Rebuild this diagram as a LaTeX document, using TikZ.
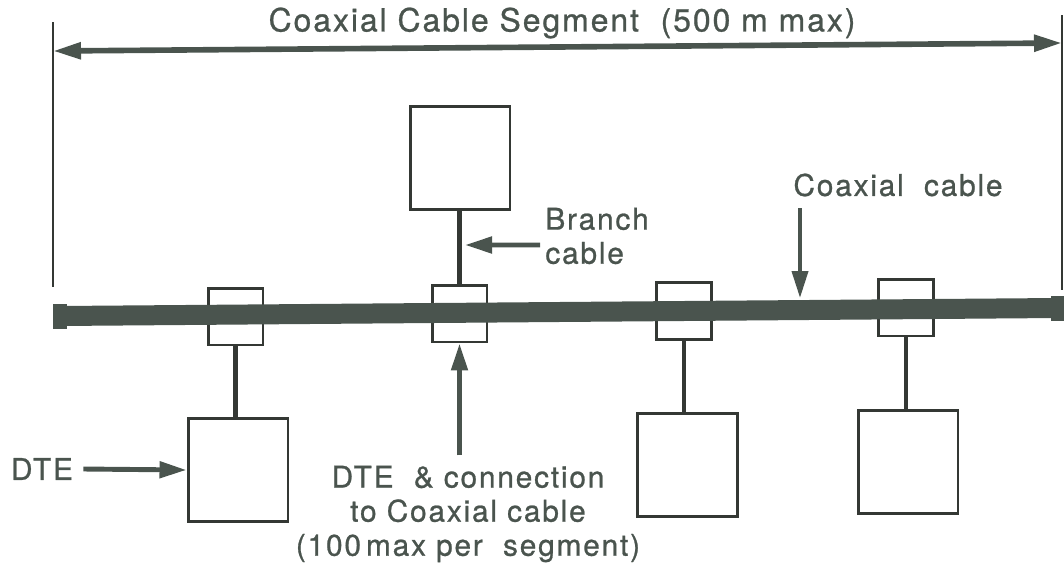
\documentclass[tikz,border=0pt]{standalone}
\usepackage{fontspec}
\setmainfont{TeX Gyre Heros}[LetterSpace=6, FakeBold=0.8]
\usepackage{xcolor}
\usepackage{tikz}
\usetikzlibrary{arrows.meta, positioning}
\definecolor{cableink}{RGB}{74,84,78}
\definecolor{lineink}{RGB}{52,56,52}
\tikzset{
    dte/.style={rectangle, draw=lineink, line width=1.7pt, fill=white, minimum width=2cm, minimum height=2.06cm},
    tap/.style={rectangle, draw=lineink, line width=1.7pt, minimum width=1.1cm, minimum height=1.14cm},
    endcap/.style={rectangle, fill=cableink, minimum width=0.28cm, minimum height=0.5cm, inner sep=0pt},
    txt/.style={text=cableink, font=\fontsize{17}{19.4}\selectfont, inner sep=0pt},
    branch/.style={draw=lineink, line width=2.3pt},
    tick/.style={draw=lineink, line width=1.3pt},
    cable/.style={draw=cableink, line width=0.4cm},
    pointer/.style={draw=cableink, line width=2.8pt, -{Triangle[length=0.54cm, width=0.32cm]}},
    span/.style={draw=cableink, line width=3.2pt, {Triangle[length=0.56cm, width=0.32cm]}-{Triangle[length=0.56cm, width=0.32cm]}}
}

\begin{document}
\begin{tikzpicture}[x=0.02cm, y=-0.02cm]
    \useasboundingbox (0,0) rectangle (1064,568);

    \node (title) [txt, font=\fontsize{18.2}{20}\selectfont] at (562,23) {Coaxial Cable Segment \ (500 m max)};
    \coordinate (tickLtop) at (53,22);
    \coordinate (tickLbot) at (53,287);
    \coordinate (tickRtop) at (1062,15);
    \coordinate (tickRbot) at (1062,290);
    \coordinate (segL) at (53,51);
    \coordinate (segR) at (1062,43);

    \node (capL) [endcap] at (60,316) {};
    \node (capR) [endcap] at (1058,308) {};

    \node (tap1) [tap] at (235.5,316.5) {};
    \node (tap2) [tap] at (459.5,313.5) {};
    \node (tap3) [tap] at (684,311) {};
    \node (tap4) [tap] at (906,307.5) {};

    \node (dte1) [dte] at (238,470) {};
    \node (dte2) [dte] at (460,158) {};
    \node (dte3) [dte] at (687.5,465) {};
    \node (dte4) [dte] at (908,462) {};

    \node (branchlbl) [txt, align=left, anchor=west] at (545,236) {Branch\\cable};
    \node (coaxlbl) [txt] at (898,185) {Coaxial \ cable};
    \node (dtelbl) [txt] at (42,469) {DTE};
    \node (connlbl) [txt, align=center] at (468,514) {DTE \ \& connection\\to Coaxial cable\\(100\,max per \ segment)};
    \coordinate (branchtip) at (465,245);
    \coordinate (coaxtop) at (800,208);
    \coordinate (coaxtip) at (800,298);

    \draw [tick] (tickLtop) -- (tickLbot);
    \draw [tick] (tickRtop) -- (tickRbot);
    \draw [span] (segL) -- (segR);

    \draw [cable] (capL.center) -- (capR.center);

    \draw [branch] (tap1.south) -- (tap1.south |- dte1.north);
    \draw [branch] (tap2.north) -- (tap2.north |- dte2.south);
    \draw [branch] (tap3.south) -- (tap3.south |- dte3.north);
    \draw [branch] (tap4.south) -- (tap4.south |- dte4.north);

    \draw [pointer] ([xshift=-0.1cm, yshift=-0.18cm]branchlbl.west) -- (branchtip);
    \draw [pointer, line width=2.2pt] (coaxtop) -- (coaxtip);
    \draw [pointer] ([xshift=0.2cm]dtelbl.east) -- (dte1.west);
    \draw [pointer] ([yshift=0.2cm]connlbl.north -| tap2.south) -- (tap2.south);
\end{tikzpicture}
\end{document}
